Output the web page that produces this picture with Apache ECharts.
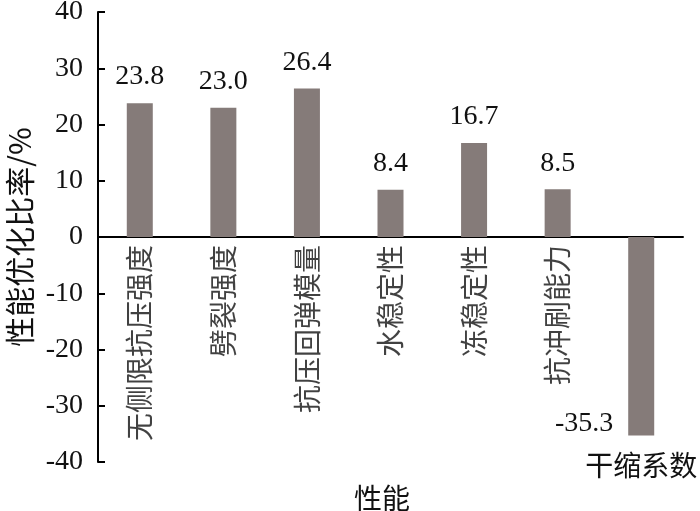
<!DOCTYPE html>
<html>
<head>
<meta charset="utf-8">
<script src="https://cdn.jsdelivr.net/npm/echarts@6/dist/echarts.min.js"></script>
<style>html,body{margin:0;padding:0;background:#fff}#c{width:700px;height:511px}</style>
</head>
<body>
<div id="c"></div>
<script>
var categories = ['无侧限抗压强度', '劈裂强度', '抗压回弹模量', '水稳定性', '冻稳定性', '抗冲刷能力', '干缩系数'];
var values = [23.8, 23.0, 26.4, 8.4, 16.7, 8.5, -35.3];
var yTicks = { min: -40, max: 40, interval: 10 };
var yName = '性能优化比率/%';
var xName = '性能';

var serif = '"Times New Roman", "Liberation Serif", serif';
var cjk = '"Noto Sans CJK SC", sans-serif';
var lastIdx = categories.length - 1;

// category names for the bars drawn upward are written just below the zero line
var upperNames = categories.filter(function (c, i) { return values[i] >= 0; });
var lowerNames = categories.filter(function (c, i) { return values[i] < 0; });

var chart = echarts.init(document.getElementById('c'));
chart.setOption({
  animation: false,
  title: {
    text: xName, left: 349, top: 479,
    textStyle: { fontSize: 28, fontFamily: cjk, color: '#111', fontWeight: 'normal' }
  },
  grid: { left: 98, right: 17, top: 12, bottom: 49, containLabel: false, outerBoundsMode: 'none' },
  xAxis: {
    type: 'category',
    data: categories,
    axisLine: { onZero: true, lineStyle: { color: '#000', width: 2 } },
    axisTick: { show: false },
    axisLabel: { show: false }
  },
  yAxis: {
    type: 'value',
    min: yTicks.min, max: yTicks.max, interval: yTicks.interval,
    splitLine: { show: false },
    axisLine: { show: true, lineStyle: { color: '#000', width: 2 } },
    axisTick: { show: true, inside: true, length: 7, lineStyle: { color: '#000', width: 2 } },
    axisLabel: { fontSize: 28, fontFamily: serif, color: '#111', margin: 15 },
    name: yName,
    nameLocation: 'middle',
    nameRotate: 90,
    nameGap: 57,
    nameTextStyle: { fontSize: 30, fontFamily: cjk, color: '#111' }
  },
  series: [{
    type: 'bar',
    barWidth: 26,
    itemStyle: { color: '#857b79' },
    label: {
      show: true, position: 'top', distance: 12,
      fontSize: 28, fontFamily: serif, color: '#111',
      formatter: function (p) { return p.value.toFixed(1); }
    },
    data: values.map(function (v) {
      if (v < 0) {
        return { value: v, label: { position: 'left', distance: 15, offset: [0, 87] } };
      }
      return v;
    }),
    markPoint: {
      symbol: 'circle', symbolSize: 0,
      label: {
        show: true, position: 'bottom', distance: 16,
        fontSize: 28, fontFamily: cjk, color: '#111',
        formatter: function (p) { return p.name; }
      },
      data: lowerNames.map(function (n) {
        return { name: n, coord: [n, values[categories.indexOf(n)]] };
      })
    }
  }, {
    type: 'scatter',
    symbolSize: 0,
    silent: true,
    label: {
      show: true, position: 'bottom', distance: 8, rotate: 90,
      align: 'right', verticalAlign: 'middle',
      fontSize: 28, fontFamily: cjk, color: '#111',
      formatter: function (p) { return p.value[0]; }
    },
    data: upperNames.map(function (n) { return [n, 0]; })
  }]
});
</script>
</body>
</html>
